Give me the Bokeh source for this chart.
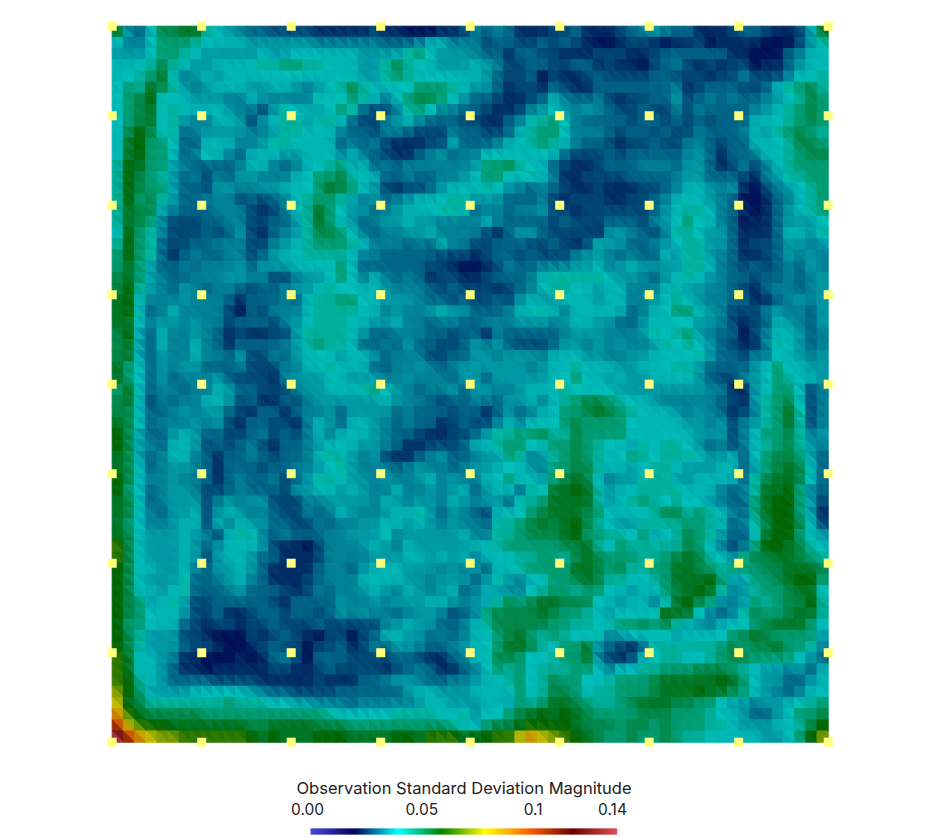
from bokeh.core.properties import value
from bokeh.embed import file_html
from bokeh.models import ColumnDataSource, LinearColorMapper
from bokeh.plotting import figure
from bokeh.resources import INLINE
from bokeh.transform import transform

colorbar_title = "Observation Standard Deviation Magnitude"
tick_values = [0.00, 0.05, 0.1, 0.14]
tick_labels = ["0.00", "0.05", "0.1", "0.14"]
probe_coords = [0, 0.125, 0.25, 0.375, 0.5, 0.625, 0.75, 0.875, 1]

# scalar value of each level character
level_chars = "0123456789abcdefghi"
level_values = [0.02, 0.0233, 0.0267, 0.03, 0.033, 0.0358, 0.039, 0.0435, 0.048, 0.052,
                0.056, 0.06, 0.065, 0.0725, 0.08, 0.09, 0.105, 0.12, 0.135]

# one row per mesh row, top to bottom, 64 cells in each
std_rows = [
"a436 99aa 7654 3322 2211 1112 1100 0112 4343 1112 2311 1234 5433 1112 3321 125a",
"6446 8887 6666 5555 5544 4444 3334 6644 4233 2232 3210 0122 1011 2011 1100 0257",
"5556 8876 5555 5655 6666 6655 5578 6555 4331 3322 1112 2211 2333 3331 1000 3466",
"6667 9765 5666 6778 8776 6655 7976 6555 6542 2332 2331 2110 2342 1212 2011 3566",
"6678 a645 6566 6666 6666 6655 7876 6666 6532 2302 1123 2222 3322 2122 4222 4667",
"687a 9754 5666 5566 5456 7976 6668 8876 5531 2213 2113 3333 3341 2333 2236 7897",
"689b 6665 5544 6544 4476 6876 4689 9865 3321 1236 4334 2122 3352 3434 3345 6798",
"689a 6766 6654 4257 6656 8732 2478 6443 3211 2456 5454 3223 2242 4333 3456 7898",
"689a 6754 4665 2567 7577 6322 4564 3332 2113 4778 6433 3323 3232 3233 3666 7898",
"69b9 6734 5555 4457 7666 4332 4432 2243 3223 6788 6444 3233 2322 4333 4657 8987",
"6ab8 8633 6664 4577 6666 3434 2111 2263 3346 6787 6433 2122 3224 4323 3666 7998",
"6ab8 8634 7643 6665 5666 4643 2113 4534 4666 6666 3222 3233 3334 5313 3466 7899",
"7ba8 8543 3334 6643 4667 8563 4344 4444 5889 7663 2112 3334 4435 5312 4246 7888",
"7b98 7534 2435 5444 6688 9766 3343 3445 6886 6764 1122 2233 3345 5333 2145 7788",
"7b98 8533 2554 4556 668a 9865 2122 3566 6765 4343 2112 1112 2346 6545 1024 5678",
"7b89 7533 4442 3234 6788 7545 3456 6677 5553 3342 1222 1122 3466 6543 0013 4678",
"7a99 5433 3444 2124 67a8 6553 4566 6776 3443 4452 2122 2222 3567 7643 1013 5678",
"7a98 4222 3344 2233 57a8 6534 5565 5444 4643 3332 3222 3332 4568 6643 0113 5556",
"6b87 4222 3235 2134 5799 8643 4455 6444 4213 5532 2221 5543 2477 6553 1113 6657",
"7b87 3223 3444 2245 6788 8764 4434 3644 2233 3223 2126 5533 4567 7553 1223 5545",
"8b87 3134 3344 2356 6777 7644 3333 3222 1233 2322 2455 4343 3657 7543 1123 5454",
"8a85 3343 4445 3555 6666 8633 3333 2210 0124 3344 4556 4565 5557 7643 2323 4354",
"9a85 4334 4455 4422 4556 8646 4343 1221 1233 3467 7777 6554 3567 6543 3233 4345",
"9b75 4354 3443 2334 5567 6666 5444 3232 2212 3467 7665 6644 4675 5443 2134 4345",
"ab64 4454 4431 3334 3677 8866 5554 3323 2232 5655 6665 6644 5676 5443 3113 4545",
"ab63 4644 4420 3244 4677 7766 4544 5655 3334 6676 4666 6634 6688 6542 2245 4435",
"aa64 5545 4423 3324 5677 7665 5644 3443 3444 5554 5665 5335 6666 5542 1236 5435",
"9b53 6445 4312 1122 5777 7653 3444 3323 3143 3333 4555 4445 7678 5433 0246 6534",
"9a53 6446 4313 3334 5787 7633 4353 3223 5453 2223 5545 4544 5767 6532 1147 6534",
"9a53 5446 4435 2243 5666 5665 3444 2233 5545 5546 6655 4455 6666 7533 2446 6545",
"a863 5455 3334 2224 4667 6663 3445 4345 5555 5456 6766 6556 6677 5333 3568 6655",
"a863 5344 4532 2214 5556 6555 4454 4435 5355 5556 6866 5655 6666 5322 4568 7665",
"8a63 4434 4653 3222 4556 6678 6543 4453 5544 5666 7666 6555 5555 5441 1568 8624",
"9a62 4344 6652 3113 2455 5555 6544 3233 4435 5646 7899 8766 5444 4432 1578 9624",
"9963 3454 5532 1331 3445 3555 5343 3323 3135 3466 889a 9876 6654 5431 2478 a724",
"a963 4445 4521 3322 1465 3665 4343 3123 2246 4666 8988 8866 6665 5452 4578 a724",
"b953 3565 3322 3423 2464 6665 4332 1122 3577 8897 7988 8866 6666 5552 4688 9745",
"b954 3665 2323 4213 3456 6655 4311 2223 6678 8668 8987 6657 6776 5342 4678 9754",
"a953 4664 3133 4323 3467 7545 2113 4533 4558 7457 8987 6687 6777 6556 3689 9853",
"a963 4554 3133 3233 4456 7544 4345 4434 5566 6548 8997 6656 7765 5566 3589 a963",
"b964 4544 3134 3342 3577 6554 5445 6454 4668 6658 9a96 4557 7755 6666 379a a963",
"b863 4554 2234 3332 5566 5654 4644 5456 3566 376a aba7 5667 7776 6643 47aa b843",
"a963 4555 2454 5522 2445 5554 6545 5465 4553 778a aaa7 5678 7676 6543 38ab b852",
"a964 3556 2565 4432 2434 6544 5667 5354 3266 689a aa98 6666 7997 8764 38ab b851",
"a864 4566 2646 5533 2243 4455 6656 5454 4377 89a9 ab97 6557 7778 8763 479b b962",
"a965 5565 4267 7434 3334 4555 7455 5556 4477 8999 ab88 7768 5679 8753 36ab b865",
"c965 5565 3566 6521 1024 4456 5465 5555 6678 8888 99a7 6877 7779 8642 38bb a976",
"c965 5565 2566 5331 1124 4445 5566 5656 4666 7788 79a9 8887 789a 9764 899a a987",
"b966 5564 3556 5311 1134 4356 6655 5454 5366 7888 8aa9 8977 88aa 9878 8899 aaa9",
"b965 5573 3456 4311 1234 4466 6655 4555 3575 4668 89a9 7766 78aa ab85 5889 abb8",
"b966 5673 3345 3332 1243 4456 5465 4563 4654 4678 8788 6656 689a ba74 5788 9aa6",
"b985 6752 2333 3321 3333 5445 4555 6654 5579 89aa 9996 6566 46ab 9844 5878 99b7",
"b986 6652 2311 2332 3323 5454 4345 5423 4899 99a9 8876 5666 6baa 6434 7988 9aa7",
"b886 6632 1221 2232 2232 2222 4565 5334 6799 9998 8776 7889 8975 5466 689a aa86",
"b975 5522 1000 2123 2102 2023 6655 3434 6689 a878 7667 4566 6656 6668 9a98 8885",
"b975 5532 2100 1232 2022 3124 3554 3345 668a a976 88a4 3213 7777 7789 899a 8874",
"ca66 5411 0001 0134 2033 3222 2332 1134 6699 8667 88a4 2126 6776 6789 9888 8653",
"ca66 5311 0111 1122 1123 2222 1234 3113 4687 8677 7886 4667 7888 9998 7655 4536",
"cb76 5333 3222 2111 1121 1133 4554 3344 5667 8679 8866 7888 9aaa aaba 8655 3356",
"db85 5556 6666 5433 2222 3333 3356 6555 6666 8679 9867 7888 9aaa baa9 8654 3466",
"ea97 7777 7787 7766 5544 4344 4445 6655 5665 878a a987 789a aa99 8865 5455 6678",
"fca9 9999 8888 8888 8887 6666 6777 7667 5668 9aba ba98 8889 9988 8766 5335 6889",
"gecb baaa aaaa 99aa aa99 9888 8888 8876 5899 abbb ba99 9899 8988 8776 5556 679b",
"igfe ddcc cccc baba aabb baaa abba ccca bbcc efed cba9 8898 8987 7666 6655 68bd",
]

# colour ramps: the bar's own and the dimmer, lit look of the surface
ramp_stops = [0, 0.02, 0.04, 0.06, 0.08, 0.10, 0.12, 0.14]
bar_colors = [(71, 71, 219), (0, 0, 92), (0, 255, 255), (0, 128, 0), (255, 255, 0), (255, 97, 0), (107, 0, 0), (224, 77, 77)]
surface_colors = [(55, 55, 170), (0, 16, 86), (0, 190, 185), (0, 100, 0), (195, 190, 0), (205, 85, 0), (90, 0, 0), (180, 70, 80)]


def ramp(colors, n=256):
    out = []
    for i in range(n):
        t = i / (n - 1) * 7
        k = min(int(t), 6)
        f = t - k
        rgb = [round(colors[k][j] + (colors[k + 1][j] - colors[k][j]) * f) for j in range(3)]
        out.append("#%02x%02x%02x" % tuple(rgb))
    return out


grid = []
for row in std_rows:
    cells = row.replace(" ", "")
    assert len(cells) == 64, row
    grid.append([level_values[level_chars.index(c)] for c in cells])

N = 64
xs, ys, vals = [], [], []
for r in range(N):
    for c in range(N):
        v = grid[r][c]
        top = grid[r - 1][c] if r > 0 else v
        bottom = grid[r + 1][c] if r < N - 1 else v
        left = grid[r][c - 1] if c > 0 else v
        right = grid[r][c + 1] if c < N - 1 else v
        x0, x1 = c / N, (c + 1) / N
        y1, y0 = 1 - r / N, 1 - (r + 1) / N
        xs.append([x0, x1, x1])
        ys.append([y1, y1, y0])
        vals.append((5 * v + top + right) / 7)
        xs.append([x0, x0, x1])
        ys.append([y1, y0, y0])
        vals.append((5 * v + bottom + left) / 7)

W, H = 912, 836
MESH_PX = 716
OX, OY = 111.7, 25.7  # pixel position of the mesh's top-left corner in the figure


def px(x):
    return (x - OX) / MESH_PX


def py(y):
    return 1 - (y - OY) / MESH_PX


p = figure(width=W, height=H, output_backend="svg", toolbar_location=None,
           x_range=(px(0), px(W)), y_range=(py(H), py(0)), min_border=0)
p.axis.visible = False
p.grid.visible = False
p.outline_line_color = None
p.background_fill_color = "white"
p.border_fill_color = "white"

mapper = LinearColorMapper(palette=ramp(surface_colors), low=0, high=0.14)
p.patches("xs", "ys", source=ColumnDataSource(dict(xs=xs, ys=ys, val=vals)),
          fill_color=transform("val", mapper), line_color=transform("val", mapper), line_width=1)

px_all, py_all = [], []
for b in probe_coords:
    for a in probe_coords:
        px_all.append(a)
        py_all.append(b)
p.scatter(px_all, py_all, marker="square", size=9, fill_color="#ffff80", line_color=None)

# colour bar
BAR_L, BAR_R, BAR_T, BAR_B = 310, 616, 828, 834
bar_pal = ramp(bar_colors)
n = len(bar_pal)
p.quad(left=[px(BAR_L + (BAR_R - BAR_L) * i / n) for i in range(n)],
       right=[px(BAR_L + (BAR_R - BAR_L) * (i + 1) / n) + 0.001 for i in range(n)],
       top=[py(BAR_T)] * n, bottom=[py(BAR_B)] * n, fill_color=bar_pal, line_color=None)

p.text([px(463.5)], [py(787.5)], text=[colorbar_title], text_font=value("Inter"),
       text_font_size="16.5px", text_align="center", text_baseline="middle", text_color="#222222")
label_offsets = [-3, 2, 4, -4]
tick_x = [px(BAR_L + (BAR_R - BAR_L) * v / 0.14 + o) for v, o in zip(tick_values, label_offsets)]
p.text(tick_x, [py(808)] * 4, text=tick_labels, text_font=value("Inter"),
       text_font_size="15.5px", text_align="center", text_baseline="middle", text_color="#222222")

open("out.html", "w").write(file_html(p, INLINE))
